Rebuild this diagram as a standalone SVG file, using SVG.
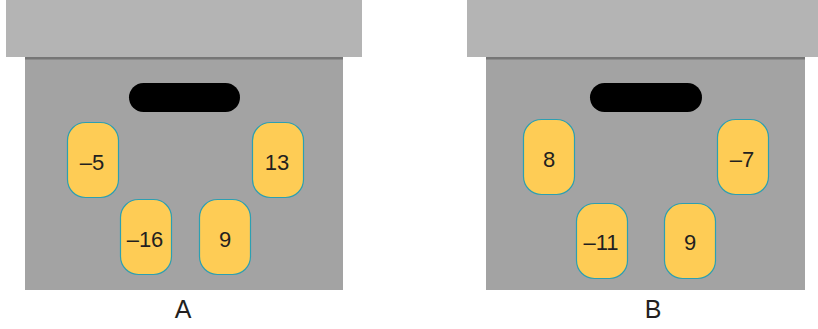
<svg xmlns="http://www.w3.org/2000/svg" width="818" height="329" viewBox="0 0 818 329">
<style>
.lid{fill:#b4b4b4}
.body{fill:#a3a3a3}
.rim{fill:#767676}
.slot{fill:#000}
.tok rect{fill:#fecc55;stroke:#2c9fb2;stroke-width:1.2}
text{font-family:"Liberation Sans",Arial,sans-serif;fill:#231f20;text-anchor:middle}
.num{font-size:22px}
.lbl{font-size:25px}
</style>
<rect width="818" height="329" fill="#fff"/>
<g id="boxA">
<rect class="lid" x="6" y="0" width="356" height="57"/>
<rect class="body" x="25" y="57" width="318" height="233"/>
<rect class="rim" x="25" y="57" width="318" height="2.5"/>
<rect class="slot" x="129" y="83" width="111" height="29" rx="14.5"/>
</g>
<g id="tokA1" class="tok"><rect x="67.5" y="122.5" width="51" height="75" rx="18"/><text class="num" x="92" y="170">–5</text></g>
<g id="tokA2" class="tok"><rect x="252.5" y="122.5" width="51" height="75" rx="18"/><text class="num" x="277" y="170">13</text></g>
<g id="tokA3" class="tok"><rect x="120.5" y="199.5" width="51" height="75" rx="18"/><text class="num" x="145" y="247">–16</text></g>
<g id="tokA4" class="tok"><rect x="199.5" y="199.5" width="51" height="75" rx="18"/><text class="num" x="225" y="247">9</text></g>
<text id="labelA" class="lbl" x="183" y="318">A</text>
<g id="boxB">
<rect class="lid" x="467" y="0" width="351" height="57"/>
<rect class="body" x="486" y="57" width="319" height="233"/>
<rect class="rim" x="486" y="57" width="319" height="2.5"/>
<rect class="slot" x="590" y="83" width="112" height="29" rx="14.5"/>
</g>
<g id="tokB1" class="tok"><rect x="523.5" y="119.5" width="51" height="75" rx="18"/><text class="num" x="549" y="167">8</text></g>
<g id="tokB2" class="tok"><rect x="717.5" y="119.5" width="51" height="75" rx="18"/><text class="num" x="742" y="167">–7</text></g>
<g id="tokB3" class="tok"><rect x="576.5" y="203.5" width="51" height="75" rx="18"/><text class="num" x="601" y="250">–11</text></g>
<g id="tokB4" class="tok"><rect x="664.5" y="203.5" width="51" height="75" rx="18"/><text class="num" x="690" y="250">9</text></g>
<text id="labelB" class="lbl" x="653" y="318">B</text>
</svg>
